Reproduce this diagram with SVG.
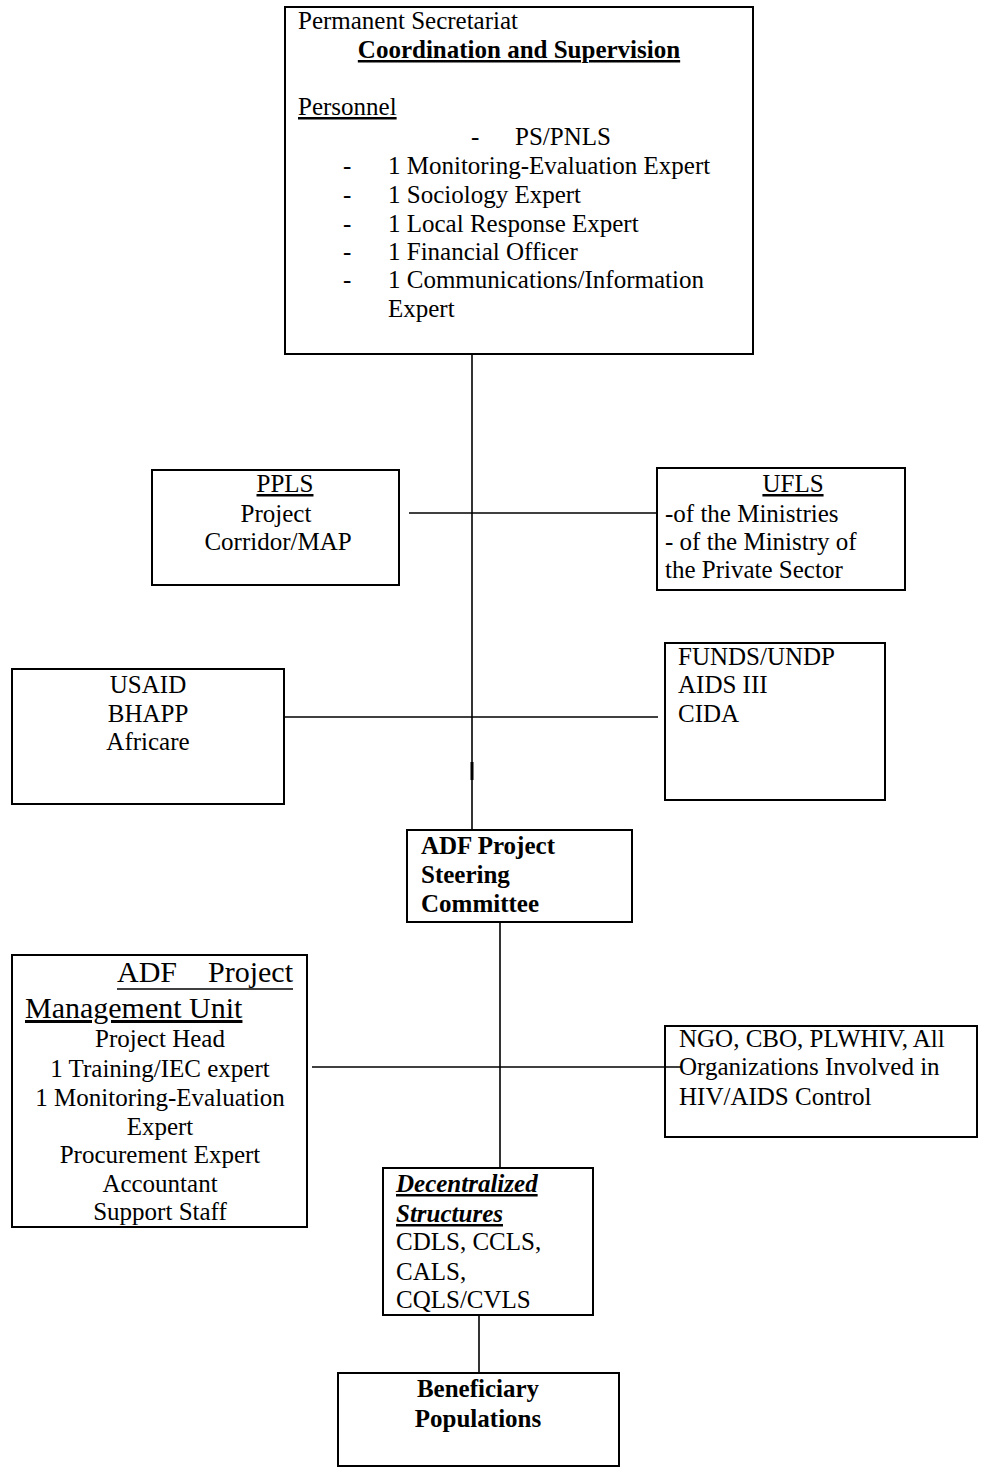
<svg xmlns="http://www.w3.org/2000/svg" width="982" height="1473" viewBox="0 0 982 1473">
<style>
text{font-family:"Liberation Serif","Times New Roman",serif;font-size:25px;fill:#000}
.b{font-weight:bold}
.u{text-decoration:underline}
.c{text-anchor:middle}
.box{fill:#fff;stroke:#000;stroke-width:2}
.ln{stroke:#000;stroke-width:1.6;fill:none}
</style>
<rect width="982" height="1473" fill="#fff"/>
<g id="connectors">
<line class="ln" x1="472" y1="354" x2="472" y2="830"/>
<line x1="472" y1="762" x2="472" y2="780" stroke="#000" stroke-width="3"/>
<line class="ln" x1="409" y1="513" x2="657" y2="513"/>
<line class="ln" x1="284" y1="717" x2="658" y2="717"/>
<line class="ln" x1="500" y1="922" x2="500" y2="1168"/>
<line class="ln" x1="312" y1="1067" x2="681" y2="1067" stroke-width="2"/>
<line class="ln" x1="479" y1="1315" x2="479" y2="1373" stroke-width="2"/>
</g>
<g id="secretariat">
<rect class="box" x="285" y="7" width="468" height="347"/>
<text x="298" y="29">Permanent Secretariat</text>
<text x="519" y="58" class="b u c">Coordination and Supervision</text>
<text x="298" y="115" class="u">Personnel</text>
<text x="471" y="145">-</text>
<text x="515" y="145">PS/PNLS</text>
<text x="343" y="174">-</text><text x="388" y="174">1 Monitoring-Evaluation Expert</text>
<text x="343" y="203">-</text><text x="388" y="203">1 Sociology Expert</text>
<text x="343" y="232">-</text><text x="388" y="232">1 Local Response Expert</text>
<text x="343" y="260">-</text><text x="388" y="260">1 Financial Officer</text>
<text x="343" y="288">-</text><text x="388" y="288">1 Communications/Information</text>
<text x="388" y="317">Expert</text>
</g>
<g id="ppls">
<rect class="box" x="152" y="470" width="247" height="115"/>
<text x="285" y="492" class="u c">PPLS</text>
<text x="276" y="522" class="c">Project</text>
<text x="278" y="550" class="c">Corridor/MAP</text>
</g>
<g id="ufls">
<rect class="box" x="657" y="468" width="248" height="122"/>
<text x="793" y="492" class="u c">UFLS</text>
<text x="665" y="522">-of the Ministries</text>
<text x="665" y="550">- of the Ministry of</text>
<text x="665" y="578">the Private Sector</text>
</g>
<g id="usaid">
<rect class="box" x="12" y="669" width="272" height="135"/>
<text x="148" y="693" class="c">USAID</text>
<text x="148" y="722" class="c">BHAPP</text>
<text x="148" y="750" class="c">Africare</text>
</g>
<g id="funds">
<rect class="box" x="665" y="643" width="220" height="157"/>
<text x="678" y="665">FUNDS/UNDP</text>
<text x="678" y="693">AIDS III</text>
<text x="678" y="722">CIDA</text>
</g>
<g id="steering">
<rect class="box" x="407" y="830" width="225" height="92"/>
<text x="421" y="854" class="b">ADF Project</text>
<text x="421" y="883" class="b">Steering</text>
<text x="421" y="912" class="b">Committee</text>
</g>
<g id="pmu">
<rect class="box" x="12" y="955" width="295" height="272"/>
<text x="117" y="982" style="font-size:30px">ADF</text>
<text x="293" y="982" style="font-size:30px;text-anchor:end">Project</text>
<line x1="117" y1="989" x2="293" y2="989" stroke="#000" stroke-width="1.6"/>
<text x="25" y="1018" class="u" style="font-size:30px">Management Unit</text>
<text x="160" y="1047" class="c">Project Head</text>
<text x="160" y="1077" class="c">1 Training/IEC expert</text>
<text x="160" y="1106" class="c">1 Monitoring-Evaluation</text>
<text x="160" y="1135" class="c">Expert</text>
<text x="160" y="1163" class="c">Procurement Expert</text>
<text x="160" y="1192" class="c">Accountant</text>
<text x="160" y="1220" class="c">Support Staff</text>
</g>
<g id="ngo">
<rect class="box" x="665" y="1026" width="312" height="111" style="fill:none"/>
<text x="679" y="1047">NGO, CBO, PLWHIV, All</text>
<text x="679" y="1075">Organizations Involved in</text>
<text x="679" y="1105">HIV/AIDS Control</text>
</g>
<g id="decentralized">
<rect class="box" x="383" y="1168" width="210" height="147"/>
<text x="396" y="1192" class="b u" font-style="italic">Decentralized</text>
<text x="396" y="1222" class="b u" font-style="italic">Structures</text>
<text x="396" y="1250">CDLS, CCLS,</text>
<text x="396" y="1280">CALS,</text>
<text x="396" y="1308">CQLS/CVLS</text>
</g>
<g id="beneficiary">
<rect class="box" x="338" y="1373" width="281" height="93"/>
<text x="478" y="1397" class="b c">Beneficiary</text>
<text x="478" y="1427" class="b c">Populations</text>
</g>
</svg>
